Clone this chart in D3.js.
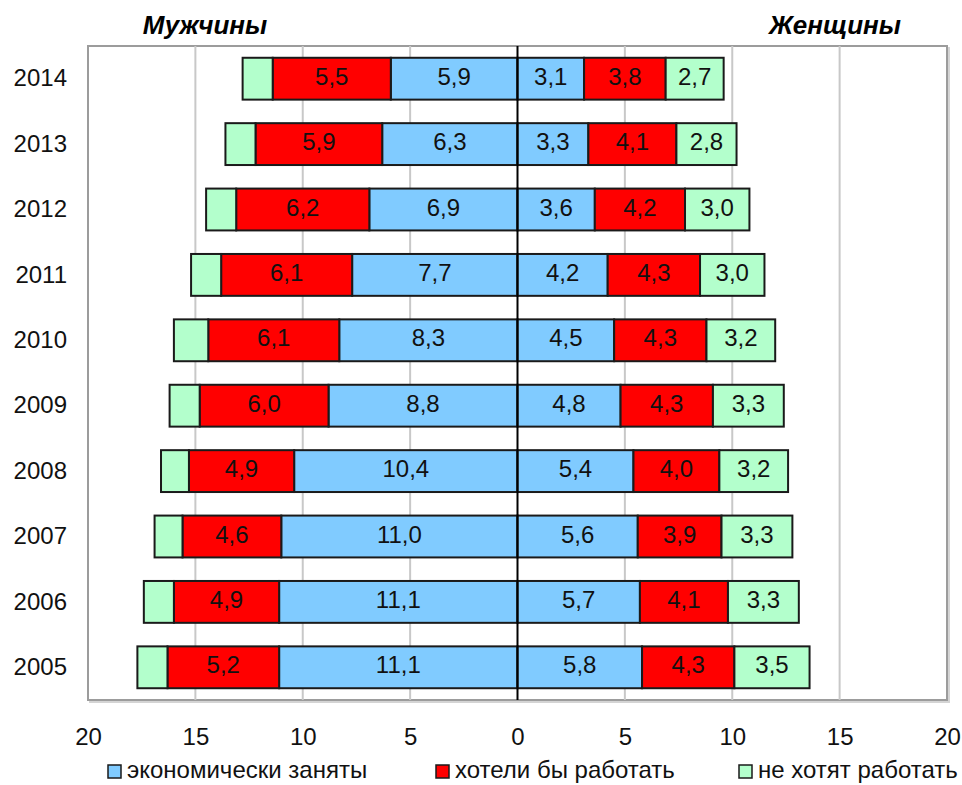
<!DOCTYPE html>
<html>
<head>
<meta charset="utf-8">
<script src="https://cdn.jsdelivr.net/npm/d3@7"></script>
<style>
  body { margin: 0; background: #fff; }
  svg { display: block; font-family: "Liberation Sans", Arial, sans-serif; }
</style>
</head>
<body>
<svg id="chart" width="962" height="785"></svg>
<script>
// data
var years = [2014, 2013, 2012, 2011, 2010, 2009, 2008, 2007, 2006, 2005];
var seriesNames = ["экономически заняты", "хотели бы работать", "не хотят работать"];
var seriesColors = ["#80CBFF", "#FF0000", "#B3FFCC"];

var menEmployed = [5.9, 6.3, 6.9, 7.7, 8.3, 8.8, 10.4, 11.0, 11.1, 11.1];
var menWant     = [5.5, 5.9, 6.2, 6.1, 6.1, 6.0, 4.9, 4.6, 4.9, 5.2];
var menNotWant  = [1.4, 1.4, 1.4, 1.4, 1.6, 1.4, 1.3, 1.3, 1.4, 1.4];

var womenEmployed = [3.1, 3.3, 3.6, 4.2, 4.5, 4.8, 5.4, 5.6, 5.7, 5.8];
var womenWant     = [3.8, 4.1, 4.2, 4.3, 4.3, 4.3, 4.0, 3.9, 4.1, 4.3];
var womenNotWant  = [2.7, 2.8, 3.0, 3.0, 3.2, 3.3, 3.2, 3.3, 3.3, 3.5];

var xTicks = [-20, -15, -10, -5, 0, 5, 10, 15, 20];

var margin = { top: 46, right: 15, bottom: 85, left: 88 },
    W = 962, H = 785;

var svg = d3.select("#chart");

var x = d3.scaleLinear().domain([-20, 20]).range([margin.left, W - margin.right]);
var y = d3.scaleBand().domain(years)
    .range([margin.top, H - margin.bottom])
    .paddingInner(0.36).paddingOuter(0.18);

var fmt = function (v) { return d3.format(".1f")(v).replace(".", ","); };

// plot frame with light shadow
svg.append("rect")
    .attr("x", margin.left + 2).attr("y", margin.top + 2)
    .attr("width", x(20) - x(-20)).attr("height", y.range()[1] - margin.top)
    .attr("fill", "none").attr("stroke", "#d4d4d4").attr("stroke-width", 2);
svg.append("rect")
    .attr("x", margin.left).attr("y", margin.top)
    .attr("width", x(20) - x(-20)).attr("height", y.range()[1] - margin.top)
    .attr("fill", "#fff").attr("stroke", "#9c9c9c").attr("stroke-width", 2);

// gridlines
svg.append("g").selectAll("line")
    .data(xTicks.filter(function (d) { return Math.abs(d) != 20 && d != 0; }))
    .join("line")
    .attr("x1", function (d) { return x(d); })
    .attr("x2", function (d) { return x(d); })
    .attr("y1", margin.top).attr("y2", y.range()[1])
    .attr("stroke", "#c8c8c8").attr("stroke-width", 2);

function buildRows(a, b, c) {
    return years.map(function (yr, i) { return { year: yr, 0: a[i], 1: b[i], 2: c[i] }; });
}
var stack = d3.stack().keys([0, 1, 2]);
var men = stack(buildRows(menEmployed, menWant, menNotWant));
var women = stack(buildRows(womenEmployed, womenWant, womenNotWant));

function drawSide(layers, sign, cls) {
    var g = svg.append("g").attr("class", cls);
    layers.forEach(function (layer) {
        var k = layer.key;
        var grp = g.append("g");
        grp.selectAll("rect")
            .data(layer)
            .join("rect")
            .attr("x", function (d) { return Math.min(x(sign * d[0]), x(sign * d[1])); })
            .attr("width", function (d) { return Math.abs(x(sign * d[1]) - x(sign * d[0])); })
            .attr("y", function (d) { return y(d.data.year); })
            .attr("height", y.bandwidth())
            .attr("fill", seriesColors[k])
            .attr("stroke", "#1a1a1a").attr("stroke-width", 2);
        // the men's "don't want" segment has no label in the original
        if (sign < 0 && k == 2) return;
        grp.selectAll("text")
            .data(layer)
            .join("text")
            .attr("x", function (d) { return x(sign * (d[0] + d[1]) / 2); })
            .attr("y", function (d) { return y(d.data.year) + y.bandwidth() / 2 + 6; })
            .attr("text-anchor", "middle")
            .style("font-size", "24px")
            .attr("fill", "#111")
            .text(function (d) { return fmt(d.data[k]); });
    });
}
drawSide(men, -1, "men");
drawSide(women, 1, "women");

// zero line
svg.append("line")
    .attr("x1", x(0)).attr("x2", x(0))
    .attr("y1", margin.top).attr("y2", y.range()[1])
    .attr("stroke", "#000").attr("stroke-width", 2);

// axes
var xAxis = svg.append("g")
    .attr("transform", "translate(0," + y.range()[1] + ")")
    .call(d3.axisBottom(x).tickValues(xTicks).tickSize(0).tickPadding(28)
        .tickFormat(function (d) { return Math.abs(d); }));
xAxis.select(".domain").remove();
xAxis.selectAll("text").style("font-size", "24px").attr("fill", "#111")
    .style("font-family", "'Liberation Sans', Arial, sans-serif");

var yAxis = svg.append("g")
    .attr("transform", "translate(" + margin.left + ",0)")
    .call(d3.axisLeft(y).tickSize(0).tickPadding(21));
yAxis.select(".domain").remove();
yAxis.selectAll("text").style("font-size", "24px").attr("fill", "#111")
    .style("font-family", "'Liberation Sans', Arial, sans-serif");

// titles
svg.append("text").attr("x", 205).attr("y", 34).attr("text-anchor", "middle")
    .style("font-size", "26px").style("font-weight", "bold").style("font-style", "italic")
    .text("Мужчины");
svg.append("text").attr("x", 835).attr("y", 34).attr("text-anchor", "middle")
    .style("font-size", "26px").style("font-weight", "bold").style("font-style", "italic")
    .text("Женщины");

// legend
var legendX = [108, 436, 739];
var legend = svg.append("g");
seriesNames.forEach(function (name, i) {
    legend.append("rect")
        .attr("x", legendX[i]).attr("y", 765)
        .attr("width", 13).attr("height", 13)
        .attr("fill", seriesColors[i]).attr("stroke", "#1a1a1a").attr("stroke-width", 1.5);
    legend.append("text")
        .attr("x", legendX[i] + 19).attr("y", 778)
        .style("font-size", "24px").attr("fill", "#111")
        .text(name);
});
</script>
</body>
</html>
